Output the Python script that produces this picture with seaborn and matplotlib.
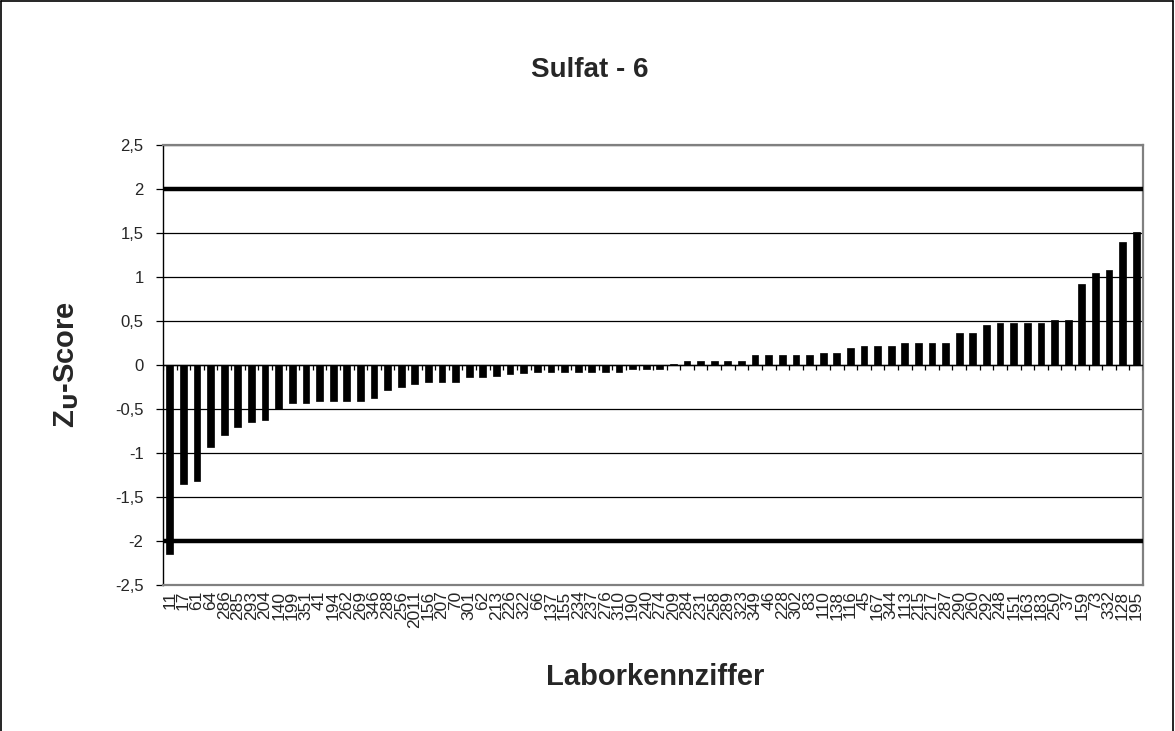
import numpy as np
import pandas as pd
import matplotlib
matplotlib.use("Agg")
import matplotlib.pyplot as plt
from matplotlib.lines import Line2D
import seaborn as sns

sns.set_theme(style="white")
plt.rcParams["font.family"] = ["Liberation Sans", "DejaVu Sans"]

# Laboratory codes, sorted by score
labs = ["11", "17", "61", "64", "286", "285", "293", "204", "140", "199",
        "351", "41", "194", "262", "269", "346", "288", "256", "2011", "156",
        "207", "70", "301", "62", "213", "226", "322", "66", "137", "155",
        "234", "237", "276", "310", "190", "240", "274", "209", "284", "231",
        "258", "289", "323", "349", "46", "228", "302", "83", "110", "138",
        "116", "45", "167", "344", "113", "215", "217", "287", "290", "260",
        "292", "248", "151", "163", "183", "250", "37", "159", "73", "332",
        "128", "195"]

# Z_U scores
scores = [-2.15, -1.35, -1.32, -0.93, -0.80, -0.71, -0.65, -0.62, -0.50, -0.43,
          -0.43, -0.405, -0.405, -0.405, -0.405, -0.38, -0.28, -0.25, -0.22, -0.195,
          -0.195, -0.19, -0.135, -0.135, -0.12, -0.10, -0.09, -0.075, -0.075, -0.075,
          -0.075, -0.075, -0.075, -0.075, -0.05, -0.045, -0.045, 0.017, 0.045, 0.045,
          0.045, 0.045, 0.045, 0.11, 0.11, 0.11, 0.11, 0.11, 0.135, 0.135,
          0.19, 0.215, 0.22, 0.22, 0.25, 0.25, 0.25, 0.25, 0.365, 0.365,
          0.45, 0.48, 0.48, 0.48, 0.48, 0.515, 0.515, 0.915, 1.05, 1.08,
          1.40, 1.515]

# Limits of acceptable performance
limits = [-2, 2]
y_ticks = [-2.5, -2, -1.5, -1, -0.5, 0, 0.5, 1, 1.5, 2, 2.5]

df = pd.DataFrame({"Labor": labs, "Score": scores})

W, H, DPI = 1175, 731, 100
fig = plt.figure(figsize=(W / DPI, H / DPI), dpi=DPI)
left, right, top, bottom = 163, 1143, 145, 585
ax = fig.add_axes([left / W, 1 - bottom / H, (right - left) / W, (bottom - top) / H])

sns.barplot(data=df, x="Labor", y="Score", order=labs, color="black",
            width=0.5, saturation=1, edgecolor="black", linewidth=0.5, ax=ax)

n = len(labs)
ax.set_xlim(-0.5, n - 0.5)
ax.set_ylim(-2.5, 2.5)

# grid lines and limit lines
for v in y_ticks:
    ax.axhline(v, color="black", lw=0.9, zorder=0)
for v in limits:
    ax.axhline(v, color="black", lw=3.2, zorder=3)

# category axis on the zero line with boundary ticks
ax.axhline(0, color="black", lw=1.0, zorder=3)
ax.vlines(np.arange(n + 1) - 0.5, -0.06, 0, color="black", lw=0.9, zorder=3)

ax.set_yticks(y_ticks)
ax.set_yticklabels([f"{v:g}".replace(".", ",") for v in y_ticks], fontsize=12)
ax.tick_params(axis="y", which="major", left=True, length=5, width=0.9,
               color="black", pad=9)
ax.set_xticks(range(n))
ax.set_xticklabels(labs, rotation=90, fontsize=12.5)
ax.tick_params(axis="x", length=0, pad=4)

for side in ["top", "right", "bottom"]:
    ax.spines[side].set_color("#808080")
    ax.spines[side].set_linewidth(1.6)
ax.spines["left"].set_color("black")
ax.spines["left"].set_linewidth(1.0)

ax.set_xlabel("")
ax.set_ylabel("")

fig.text(0.502, 1 - 70 / H, "Sulfat - 6", ha="center", va="center",
         fontsize=20, fontweight="bold")
fig.text(655 / W, 1 - 677 / H, "Laborkennziffer", ha="center",
         va="center", fontsize=21, fontweight="bold")
fig.text(67 / W, 1 - 365 / H, r"Z$_\mathbf{U}$-Score", ha="center", va="center",
         rotation=90, fontsize=21, fontweight="bold")

# outer frame of the chart area
frame_kw = dict(color="black", lw=1.2, transform=fig.transFigure)
fig.add_artist(Line2D([0.0008, 0.0008], [0, 0.999], **frame_kw))
fig.add_artist(Line2D([0.0008, 0.998], [0.999, 0.999], **frame_kw))
fig.add_artist(Line2D([0.998, 0.998], [0, 0.999], **frame_kw))

fig.savefig("out.png", dpi=DPI)
